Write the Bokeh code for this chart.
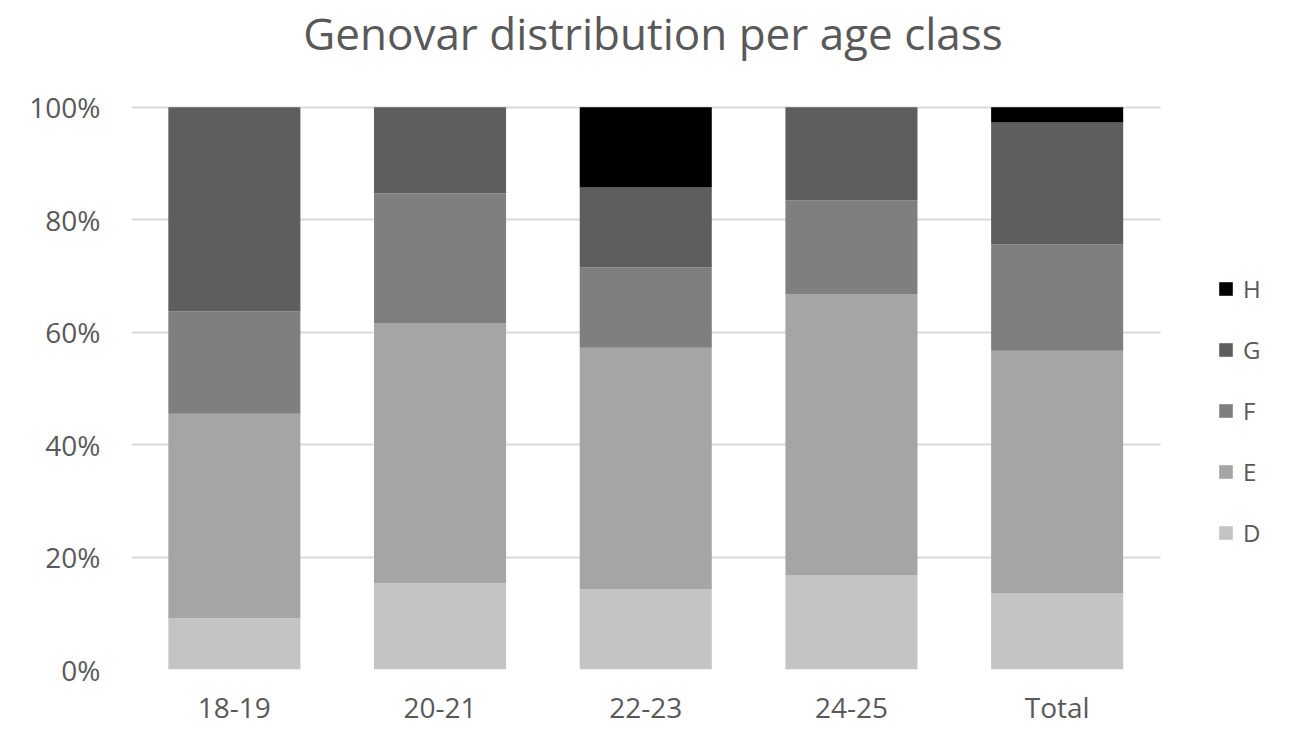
from bokeh.plotting import figure
from bokeh.models import Range1d, FixedTicker, PrintfTickFormatter, Legend, LegendItem, Label
from bokeh.embed import file_html
from bokeh.resources import INLINE

categories = ["18-19", "20-21", "22-23", "24-25", "Total"]
series = ["D", "E", "F", "G", "H"]
D = [9.1, 15.4, 14.3, 16.7, 13.5]
E = [36.4, 46.2, 42.9, 50.0, 43.2]
F = [18.2, 23.1, 14.3, 16.7, 18.9]
G = [36.3, 15.3, 14.2, 16.6, 21.7]
H = [0.0, 0.0, 14.3, 0.0, 2.7]
colors = ["#c4c4c4", "#a5a5a5", "#7f7f7f", "#5e5e5e", "#000000"]
yticks = [0, 20, 40, 60, 80, 100]
title_text = "Genovar distribution per age class"

FONT = "Open Sans"
TXT = "#595959"

xpos = list(range(1, len(categories) + 1))
data = {"x": xpos, "D": D, "E": E, "F": F, "G": G, "H": H}

W, Hh = 1300, 736
FL, FB = 131, 669           # frame left, frame bottom (px)
CAT_PX = 205.7              # px per category
frame_w = W - FL
x_end = 0.5 + frame_w / CAT_PX
y_end = 100 * FB / (FB - 106.7)

p = figure(x_range=Range1d(0.5, x_end), y_range=Range1d(0, y_end),
           width=W, height=Hh,
           output_backend="svg", toolbar_location=None,
           min_border_left=FL, min_border_right=0,
           min_border_top=0, min_border_bottom=Hh - FB)

renderers = p.vbar_stack(series, x="x", width=0.642, color=colors,
                         line_color=None, source=data)

p.outline_line_color = None
p.xgrid.grid_line_color = None
p.ygrid.grid_line_color = "#d9d9d9"
p.ygrid.grid_line_width = 2
p.ygrid.cross_bounds = (0.5, 0.5 + len(categories))

p.yaxis.ticker = FixedTicker(ticks=yticks)
p.yaxis.formatter = PrintfTickFormatter(format="%d%%")
p.xaxis.ticker = FixedTicker(ticks=xpos)
p.xaxis.major_label_overrides = {x: c for x, c in zip(xpos, categories)}
for ax in (p.xaxis[0], p.yaxis[0]):
    ax.axis_line_color = None
    ax.major_tick_line_color = None
    ax.minor_tick_line_color = None
    ax.major_tick_out = 0
    ax.major_tick_in = 0
    ax.minor_tick_out = 0
    ax.major_label_text_font = FONT
    ax.major_label_text_font_size = "28px"
    ax.major_label_text_color = TXT
p.yaxis.major_label_standoff = 31
p.xaxis.major_label_standoff = 18

title = Label(x=652.5 - FL, y=FB - 32, x_units="screen", y_units="screen",
              text=title_text, text_align="center", text_baseline="middle",
              text_font=FONT, text_font_size="44px", text_color=TXT)
p.add_layout(title)

items = [LegendItem(label=s, renderers=[r]) for s, r in zip(series, renderers)]
items.reverse()
legend = Legend(items=items, location=(1217 - FL, 120), orientation="vertical",
                padding=0, margin=0, spacing=27,
                glyph_width=17, glyph_height=17, label_height=34,
                label_standoff=9,
                label_text_font=FONT, label_text_font_size="24px",
                label_text_color=TXT,
                border_line_color=None, background_fill_alpha=0)
p.add_layout(legend, "center")

open("out.html", "w").write(file_html(p, INLINE))
